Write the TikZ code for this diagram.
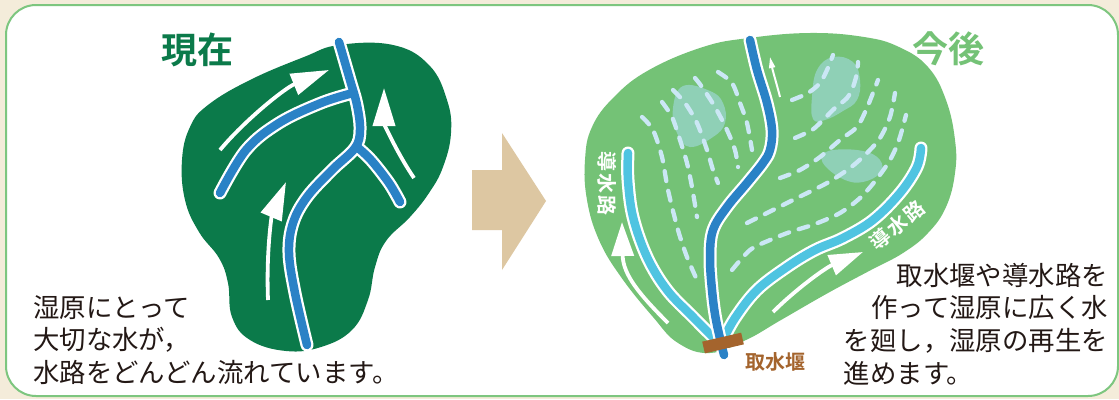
\documentclass[tikz,border=0pt]{standalone}
\usepackage{fontspec}
\usetikzlibrary{arrows.meta}
\newfontfamily\jp{Noto Sans CJK JP}[BoldFont={Noto Sans CJK JP Bold}]

\definecolor{bgbeige}{HTML}{F4ECDA}
\definecolor{framegreen}{HTML}{7DC67F}
\definecolor{darkwet}{HTML}{0B7A4A}
\definecolor{lightwet}{HTML}{74C276}
\definecolor{riverblue}{HTML}{2A82C6}
\definecolor{ditchblue}{HTML}{4FC4E1}
\definecolor{dashblue}{HTML}{CBE7F5}
\definecolor{pondteal}{HTML}{8FD0B6}
\definecolor{arrowtan}{HTML}{DDC7A2}
\definecolor{weirbrown}{HTML}{A4642D}
\definecolor{inkgray}{HTML}{231815}

\begin{document}
\begin{tikzpicture}[x=1pt,y=1pt,
  casing/.style={white, line width=13pt, line cap=round, line join=round},
  channel/.style={line width=8.5pt, line cap=round, line join=round},
  flow/.style={white, line width=3.8pt, -{Triangle[length=38pt,width=22pt]}},
  flowsmall/.style={white, line width=2pt, -{Triangle[length=11pt,width=6pt]}},
  seep/.style={dashblue, line width=4.3pt, line cap=round, dash pattern=on 10pt off 10pt},
  pond/.style={fill=pondteal},
  title/.style={inner sep=0pt, font=\jp\bfseries\fontsize{36}{40}\selectfont},
  note/.style={inner sep=0pt, text=inkgray, font=\jp\fontsize{26.4}{32.8}\selectfont},
  ditchlabel/.style={inner sep=0pt, text=white, font=\jp\bfseries\fontsize{20}{22}\selectfont}
]
% page and panel frame
\fill[bgbeige] (0,0) rectangle (1119,-399);
\useasboundingbox (0,0) rectangle (1119,-399);
\draw[framegreen, line width=2pt, fill=white, rounded corners=30pt] (6,-5) rectangle (1118,-396);

% ---------- present state ----------
\node[title, text=darkwet] (nowtitle) at (197,-50) {現在};

\fill[darkwet] plot[smooth cycle, tension=0.7] coordinates {
  (339,-45) (393,-45) (429,-65) (447,-100) (451,-133) (443,-167) (429,-193)
  (410,-217) (386,-241) (375,-267) (368,-300) (352,-330) (321,-347) (286,-351)
  (250,-340) (232,-317) (228,-283) (219,-258) (199,-232) (185,-200) (182,-160)
  (190,-127) (208,-105) (250,-80) (304,-57)};

% water running along the channels
\draw[flow] (220,-150) .. controls (245,-120) and (285,-88) .. (329,-70);
\draw[flow] (268,-300) .. controls (266,-250) and (272,-215) .. (286,-182);
\draw[flow] (414,-178) .. controls (395,-150) and (384,-122) .. (384,-88);

% drainage channels
\foreach \st in {casing, {channel, riverblue}} {
  \draw[style/.expand once=\st] plot[smooth, tension=0.6] coordinates {
    (339,-42) (350,-80) (357,-105) (360,-130) (355,-148) (332,-170) (307,-197)
    (293,-223) (289,-253) (295,-293) (307,-345)};
  \draw[style/.expand once=\st] plot[smooth, tension=0.6] coordinates {
    (353,-93) (321,-103) (279,-123) (246,-150) (220,-193)};
  \draw[style/.expand once=\st] plot[smooth, tension=0.6] coordinates {
    (357,-147) (371,-160) (389,-183) (400,-202)};
}

\node[note, anchor=base west] (nownote) at (33,-317) {\parbox[t]{15em}{\raggedright
  湿原にとって\\大切な水が，\\水路をどんどん流れています。}};

% ---------- transition arrow ----------
\fill[arrowtan] (472,-170) -- (502,-170) -- (502,-133) -- (546,-201)
  -- (502,-270) -- (502,-230) -- (472,-230) -- cycle;

% ---------- future state ----------
\node[title, text=lightwet] (futuretitle) at (948,-49) {今後};

\fill[lightwet] plot[smooth cycle, tension=0.7] coordinates {
  (749,-38) (810,-33) (864,-37) (899,-47) (928,-67) (946,-100) (955,-140)
  (955,-173) (946,-207) (928,-233) (903,-253) (871,-270) (828,-293) (781,-320)
  (746,-340) (710,-353) (678,-343) (653,-317) (621,-277) (599,-240) (587,-200)
  (585,-160) (592,-127) (614,-97) (649,-70) (703,-47)};

% recovering wet patches
\fill[pond] plot[smooth cycle, tension=0.7] coordinates {
  (683,-86) (710,-91) (723,-103) (725,-123) (713,-137) (690,-147) (677,-133) (673,-108)};
\fill[pond] plot[smooth cycle, tension=0.7] coordinates {
  (833,-57) (853,-62) (860,-80) (857,-100) (843,-111) (825,-120) (813,-119) (812,-97) (817,-70)};
\fill[pond] plot[smooth cycle, tension=0.7] coordinates {
  (833,-150) (863,-151) (880,-160) (880,-173) (863,-182) (845,-180) (827,-168) (822,-157)};

% spreading water, left side
\draw[seep] plot[smooth] coordinates {(642,-117) (653,-130) (662,-157) (668,-190) (678,-230) (687,-257) (697,-280)};
\draw[seep] plot[smooth] coordinates {(662,-102) (672,-117) (680,-140) (687,-163) (692,-187) (697,-217)};
\draw[seep] plot[smooth] coordinates {(673,-90) (685,-103) (697,-123) (707,-150) (713,-170) (718,-183)};
\draw[seep] plot[smooth] coordinates {(695,-78) (702,-87) (715,-107) (727,-130) (735,-150) (738,-167)};
\draw[seep] plot[smooth] coordinates {(718,-72) (732,-83) (740,-103) (747,-123) (752,-150)};
% spreading water, right side
\draw[seep] plot[smooth] coordinates {(792,-100) (808,-93) (820,-83) (827,-70) (833,-55)};
\draw[seep] plot[smooth] coordinates {(795,-138) (812,-130) (823,-120) (835,-108) (847,-98) (853,-87) (857,-73) (858,-62)};
\draw[seep] plot[smooth] coordinates {(780,-178) (800,-170) (820,-157) (840,-140) (857,-127) (866,-110) (873,-93) (878,-80)};
\draw[seep] plot[smooth] coordinates {(747,-223) (773,-210) (797,-198) (827,-183) (850,-168) (867,-153) (880,-138) (890,-117) (895,-93)};
\draw[seep] plot[smooth] coordinates {(732,-270) (750,-250) (770,-240) (790,-232) (815,-224) (840,-213) (860,-198) (876,-180) (890,-160) (899,-140) (906,-115)};

% water led along the ditches
\draw[flow, -{Triangle[length=34pt,width=22pt]}] (668,-323) .. controls (640,-295) and (623,-275) .. (622,-222);
\draw[flow, -{Triangle[length=34pt,width=21pt]}] (773,-312) .. controls (795,-290) and (825,-268) .. (863,-252);
\draw[flowsmall] (780,-97) .. controls (777,-85) and (773,-72) .. (770,-57);

% guide ditches
\draw[casing] plot[smooth, tension=0.6] coordinates {
  (628,-153) (628,-180) (633,-217) (647,-257) (667,-290) (693,-317) (716,-340)};
\draw[channel, ditchblue] plot[smooth, tension=0.6] coordinates {
  (628,-153) (628,-180) (633,-217) (647,-257) (667,-290) (693,-317) (716,-340)};
\draw[casing] plot[smooth, tension=0.6] coordinates {
  (921,-148) (917,-167) (900,-193) (873,-220) (843,-238) (815,-250) (787,-267)
  (757,-290) (735,-318) (722,-342)};
\draw[channel, ditchblue] plot[smooth, tension=0.6] coordinates {
  (921,-148) (917,-167) (900,-193) (873,-220) (843,-238) (815,-250) (787,-267)
  (757,-290) (735,-318) (722,-342)};
% main channel
\draw[casing] plot[smooth, tension=0.6] coordinates {
  (750,-40) (757,-70) (767,-103) (772,-130) (770,-150) (763,-163) (747,-183)
  (727,-207) (713,-230) (710,-257) (712,-290) (716,-320) (724,-355)};
\draw[channel, riverblue] plot[smooth, tension=0.6] coordinates {
  (750,-40) (757,-70) (767,-103) (772,-130) (770,-150) (763,-163) (747,-183)
  (727,-207) (713,-230) (710,-257) (712,-290) (716,-320) (724,-355)};

% intake weir
\fill[weirbrown, rotate around={13:(723,-343)}] (703,-349) rectangle (743,-337);
\node[inner sep=0pt, text=weirbrown, font=\jp\bfseries\fontsize{20}{22}\selectfont] (weirlabel) at (775,-362) {取水堰};

\node[ditchlabel, rotate=-90] (ditchwest) at (607,-183) {導\kern2pt 水\kern2pt 路};
\node[ditchlabel, rotate=40] (ditcheast) at (897,-225) {導\kern2pt 水\kern2pt 路};

\node[note, anchor=base east] (futurenote) at (1108,-285) {\parbox[t]{10em}{\raggedright
  \hspace*{\fill}取水堰や導水路を\\
  \hspace*{\fill}作って湿原に広く水\\
  を廻し，湿原の再生を\\
  進めます。}};
\end{tikzpicture}
\end{document}
